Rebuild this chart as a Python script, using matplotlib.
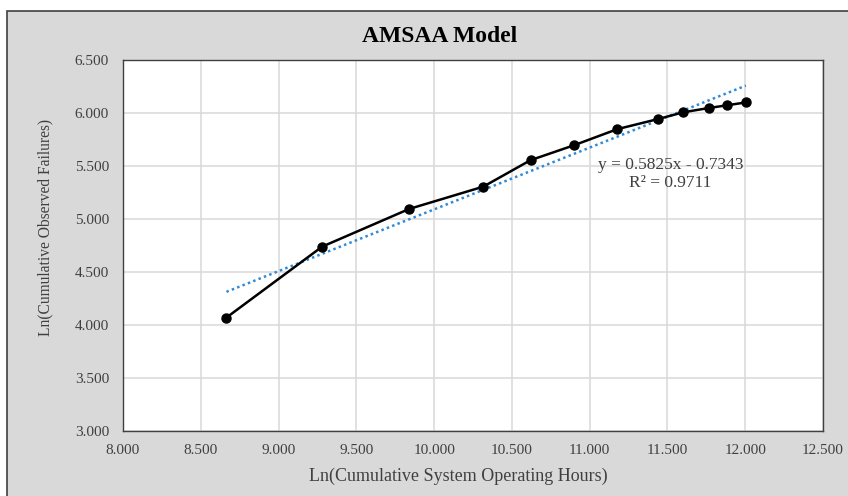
import numpy as np
import matplotlib.pyplot as plt
from matplotlib.patches import Rectangle

# datos (ln horas acumuladas, ln fallas acumuladas)
ln_horas = [8.665, 9.28, 9.84, 10.316, 10.62, 10.90, 11.178, 11.44, 11.60, 11.765, 11.88, 12.004]
ln_fallas = [4.07, 4.739, 5.095, 5.305, 5.555, 5.696, 5.848, 5.943, 6.006, 6.047, 6.072, 6.10]
pendiente = 0.5825
intercepto = -0.7343
r2 = 0.9711

plt.rcParams['font.family'] = ['Liberation Serif', 'DejaVu Serif']

fig = plt.figure(figsize=(8.48, 4.96), dpi=100)
fig.patch.set_facecolor('white')
# fondo gris del área del gráfico (estilo Excel)
fondo = Rectangle((7 / 848, -0.01), 1.0, 1 - 11 / 496 + 0.01, transform=fig.transFigure,
                  facecolor='#d9d9d9', edgecolor='#404040', linewidth=1.2, zorder=-5)
fig.patches.append(fondo)

ax = fig.add_axes([123 / 848, 1 - 431 / 496, 700 / 848, 371 / 496])
ax.set_facecolor('white')

# línea de tendencia
x = np.array(ln_horas)
xt = np.array([x.min(), x.max()])
ax.plot(xt, pendiente * xt + intercepto, linestyle=(0, (1, 1.3)), color='#2f8ad8', lw=1.8, zorder=2)

# serie observada
ax.plot(ln_horas, ln_fallas, color='black', lw=1.8, marker='o', ms=6.5, zorder=3)

ax.set_xlim(8.0, 12.5)
ax.set_ylim(3.0, 6.5)
ax.set_xticks(np.arange(8.0, 12.51, 0.5))
ax.set_yticks(np.arange(3.0, 6.51, 0.5))
ax.set_xticklabels([f"{v:.3f}" for v in np.arange(8.0, 12.51, 0.5)])
ax.set_yticklabels([f"{v:.3f}" for v in np.arange(3.0, 6.51, 0.5)])
ax.tick_params(length=0, labelsize=11, colors='#404040')
ax.tick_params(axis='y', pad=10)
ax.tick_params(axis='x', pad=9)
ax.grid(True, color='#d9d9d9', lw=1.1)
ax.set_axisbelow(True)
for s in ax.spines.values():
    s.set_color('#404040')
    s.set_linewidth(1.0)

ax.text(11.52, 5.513, f"y = {pendiente}x - {abs(intercepto)}", ha='center', va='center',
        fontsize=12.5, color='#404040')
ax.text(11.52, 5.34, f"R² = {r2}", ha='center', va='center', fontsize=12.5, color='#404040')

fig.text(440 / 848, 1 - 37 / 496, "AMSAA Model", ha='center', va='center',
         fontsize=17, fontweight='bold', color='black')
ax.set_xlabel("Ln(Cumulative System Operating Hours)", fontsize=13, color='#404040', va='center')
ax.set_ylabel("Ln(Cumulative Observed Failures)", fontsize=11.2, color='#404040', va='center')
ax.xaxis.set_label_coords((458 - 123) / 700, (431 - 476) / 371)
ax.yaxis.set_label_coords((45 - 123) / 700, (431 - 227.5) / 371)

fig.savefig('out.png', dpi=100, facecolor=fig.get_facecolor())
